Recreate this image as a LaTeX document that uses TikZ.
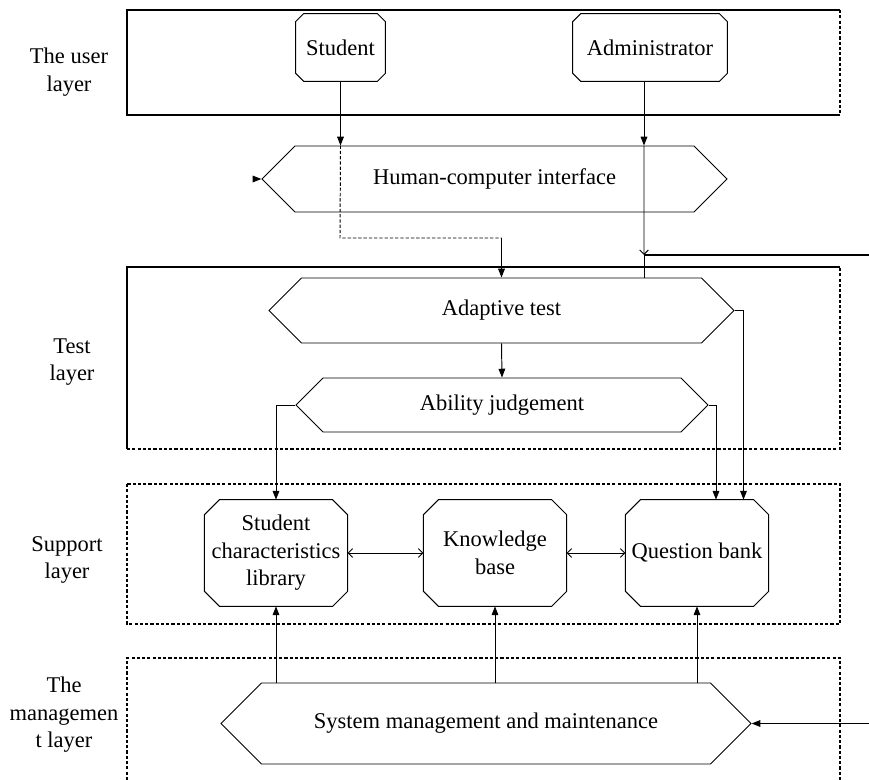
\documentclass[tikz,border=0pt]{standalone}
\usepackage{fontspec}
\setmainfont{Liberation Serif}
\usetikzlibrary{shapes.symbols,arrows.meta,calc}
\tikzset{
  layerline/.style={line width=0.9pt},
  layerdash/.style={line width=0.9pt, dash pattern=on 1.8pt off 1.2pt},
  roleblock/.style={minimum height=1.34cm, inner sep=0pt},
  storeblock/.style={minimum width=2.85cm, minimum height=2.12cm, inner sep=0pt, align=center},
  procblock/.style={draw, line width=0.55pt, signal, signal to=east and west, signal pointer angle=90, inner sep=0pt},
  layername/.style={align=center},
  arr/.style={line width=0.55pt, -{Triangle[length=5pt,width=3.8pt]}},
  barb/.style={line width=0.55pt, -{Straight Barb[length=2.5pt,width=5pt]}},
  twoway/.style={line width=0.55pt, {Straight Barb[length=2.5pt,width=5pt]}-{Straight Barb[length=2.5pt,width=5pt]}},
  route/.style={line width=0.55pt, dash pattern=on 1.9pt off 1.1pt},
}
\begin{document}
\begin{tikzpicture}[x=0.02cm, y=-0.02cm, font=\rmfamily\fontsize{12.8}{15.6}\selectfont]
\useasboundingbox (0,0) rectangle (869,780);
% layer frames
\draw[layerline] (840,10) -- (127,10) -- (127,115) -- (840,115);
\draw[layerdash] (840,10) -- (840,115);
\draw[layerline] (840,267) -- (127,267) -- (127,449);
\draw[layerdash] (127,449) -- (840,449) -- (840,267);
\draw[layerdash] (127,484) rectangle (840,624);
\draw[layerdash] (127,780) -- (127,658) -- (840,658) -- (840,780);
% layer names
\node[layername] (luser) at (69,72) {The user\\layer};
\node[layername] (ltest) at (72,362) {Test\\layer};
\node[layername] (lsupp) at (67,560) {Support\\layer};
\node[layername] (lmgmt) at (64,715) {The\\managemen\\t layer};
% blocks
\node[roleblock, minimum width=1.78cm] (stu) at (340.5,47.5) {Student};
\node[roleblock, minimum width=3.08cm] (adm) at (650,47.5) {Administrator};
\node[procblock, minimum width=9.3cm, minimum height=1.32cm] (hci) at (494.5,179) {Human-computer interface};
\node[procblock, minimum width=9.3cm, minimum height=1.3cm] (adapt) at (501.5,310.5) {Adaptive test};
\node[procblock, minimum width=8.24cm, minimum height=1.08cm] (judge) at (502,405) {Ability judgement};
\node[storeblock] (sl) at (276,553) {Student\\characteristics\\library};
\node[storeblock] (kb) at (495,553) {Knowledge\\base};
\node[storeblock] (qb) at (697,553) {Question bank};
\node[procblock, minimum width=10.6cm, minimum height=1.62cm] (sys) at (486,723.5) {System management and maintenance};
% cut corners of the role and store blocks
\foreach \blk/\cut in {stu/8,adm/8,sl/15,kb/15,qb/15}
  \draw[line width=0.55pt] ($(\blk.north west)+(\cut,0)$) -- ($(\blk.north east)+(-\cut,0)$)
    -- ($(\blk.north east)+(0,\cut)$) -- ($(\blk.south east)+(0,-\cut)$)
    -- ($(\blk.south east)+(-\cut,0)$) -- ($(\blk.south west)+(\cut,0)$)
    -- ($(\blk.south west)+(0,-\cut)$) -- ($(\blk.north west)+(0,\cut)$) -- cycle;
% connectors
\coordinate (hciin) at (253,179);
\coordinate (sturoute) at (340,238);
\coordinate (feed) at (644,255);
\coordinate (feedend) at (869,255);
\coordinate (sysin) at (869,723.5);
\draw[arr] (hciin) -- (hci.west);
\draw[arr] (stu.south) -- (stu.south |- hci.north);
\draw[route] (stu.south |- hci.north) -- (sturoute) -- (sturoute -| adapt.north);
\draw[arr] (sturoute -| adapt.north) -- (adapt.north);
\draw[arr] ([xshift=-0.12cm]adm.south) -- ([xshift=-0.12cm]adm.south |- hci.north);
\draw[barb] ([xshift=-0.12cm]adm.south |- hci.north) -- (feed);
\draw[line width=0.55pt] (feed) -- (feed |- adapt.north);
\draw[line width=0.9pt] (feedend) -- (feed);
\draw[arr] (adapt.south) -- (judge.north);
\draw[arr] (judge.west) -| (sl.north);
\draw[arr] (judge.east) -| ([xshift=0.38cm]qb.north);
\draw[arr] (adapt.east) -| ([xshift=0.93cm]qb.north);
\draw[twoway] (sl.east) -- (kb.west);
\draw[twoway] (kb.east) -- (qb.west);
\foreach \blk in {sl,kb,qb}
  \draw[arr] (sys.north -| \blk.south) -- (\blk.south);
\draw[arr] (sysin) -- (sys.east);
\end{tikzpicture}
\end{document}
